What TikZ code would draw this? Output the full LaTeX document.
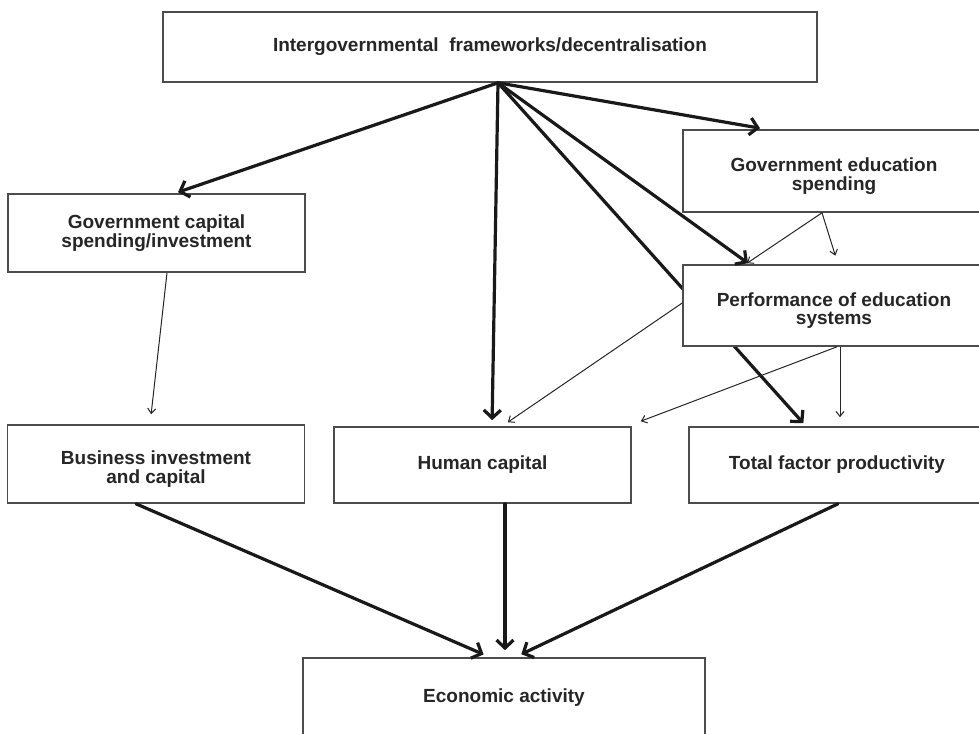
\documentclass[tikz,border=0pt]{standalone}
\usepackage{fontspec}
\setmainfont{Liberation Sans}
\usetikzlibrary{arrows.meta,backgrounds}
\newcommand{\dn}{\rule{0pt}{24pt}}
\begin{document}
\begin{tikzpicture}[x=1pt,y=-1pt,
  box/.style={draw=black!70, line width=1.6pt, fill=white, align=center,
    font=\bfseries\fontsize{19}{18.5}\selectfont, text=black!85, inner sep=0pt},
  bigarr/.style={line width=3.2pt, draw=black!90, line cap=round,
    -{Straight Barb[length=8pt,width=17pt]}},
  smallarr/.style={line width=1pt, draw=black!85,
    -{Straight Barb[length=5pt,width=8pt]}}]
\useasboundingbox (0,0) rectangle (979,733);
\node[box, minimum width=654pt, minimum height=70pt] (top) at (490,47) {Intergovernmental\ \ frameworks/decentralisation};
\node[box, minimum width=297pt, minimum height=78pt] (gcap) at (156.5,233) {Government capital\\spending/investment};
\node[box, minimum width=302pt, minimum height=82pt] (gedu) at (834,171) {\dn Government education\\spending};
\node[box, minimum width=302pt, minimum height=81pt] (perf) at (834,305.5) {\dn Performance of education\\systems};
\node[box, minimum width=297pt, minimum height=78pt] (bus) at (156,464) {\dn Business investment\\and capital};
\node[box, minimum width=297pt, minimum height=76pt] (human) at (482.5,465) {Human capital};
\node[box, minimum width=296pt, minimum height=76pt] (tfp) at (837,465) {Total factor productivity};
\node[box, minimum width=402pt, minimum height=80pt] (econ) at (504,698) {Economic activity};

\begin{pgfonlayer}{background}
\draw[bigarr, shorten >=4pt] ([xshift=8pt]top.south) -- ([xshift=-31pt]tfp.north);
\end{pgfonlayer}
\draw[bigarr] ([xshift=8pt]top.south) -- ([xshift=21.5pt,yshift=1pt]gcap.north);
\draw[bigarr] ([xshift=8pt]top.south) -- ([xshift=-74pt,yshift=1pt]gedu.north);
\draw[bigarr, shorten >=6pt] ([xshift=8pt]top.south) -- ([xshift=9.5pt]human.north);
\draw[bigarr] ([xshift=8pt]top.south) -- ([xshift=-86pt,yshift=1pt]perf.north);

\draw[smallarr] ([xshift=-12pt]gedu.south) -- ([xshift=-87pt,yshift=1pt]perf.north);
\draw[smallarr, shorten >=9pt] ([xshift=-12pt]gedu.south) -- ([xshift=4pt]perf.north);
\draw[smallarr, shorten >=7pt] ([yshift=2.5pt]perf.west) -- ([xshift=19.5pt]human.north);
\draw[smallarr] ([xshift=3pt]perf.south) -- ([xshift=9pt,yshift=5pt]human.north east);
\draw[smallarr, shorten >=9pt] ([xshift=6pt]perf.south) -- ([xshift=3pt]tfp.north);
\draw[smallarr, shorten >=10pt] ([xshift=10.5pt]gcap.south) -- ([xshift=-6pt]bus.north);

\draw[bigarr, shorten >=7pt] ([xshift=-20pt]bus.south) -- ([xshift=-14pt]econ.north);
\draw[bigarr, shorten >=7pt] ([xshift=22.5pt]human.south) -- ([xshift=1pt]econ.north);
\draw[bigarr, shorten >=7pt] ([xshift=1pt]tfp.south) -- ([xshift=11pt]econ.north);
\end{tikzpicture}
\end{document}
